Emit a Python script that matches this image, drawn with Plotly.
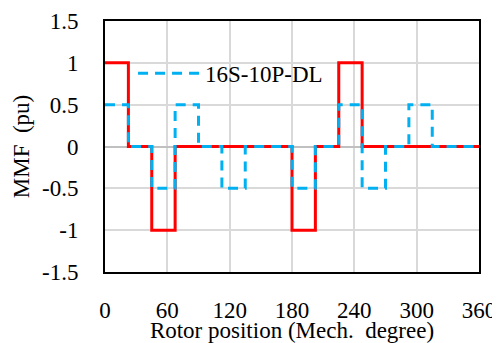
import plotly.graph_objects as go

# Step change positions (mechanical degrees) and MMF values (pu)
sl_x = [0, 22.5, 45, 67.5, 180, 202.5, 225, 247.5, 360]
sl_y = [1, 0, -1, 0, -1, 0, 1, 0, 0]

dl_x = [0, 22.5, 45, 67.5, 90, 112.5, 135, 180, 202.5, 225, 247.5, 270, 292.5, 315, 360]
dl_y = [0.5, 0, -0.5, 0.5, 0, -0.5, 0, -0.5, 0, 0.5, -0.5, 0, 0.5, 0, 0]

x_ticks = [0, 60, 120, 180, 240, 300, 360]
y_ticks = [-1.5, -1, -0.5, 0, 0.5, 1, 1.5]
y_tick_labels = ["-1.5", "-1", "-0.5", "0", "0.5", "1", "1.5"]

FONT = "Liberation Serif"
FS = 23

fig = go.Figure()
fig.add_trace(go.Scatter(x=sl_x, y=sl_y, mode="lines", name="16S-10P-SL", legend="legend",
                         line=dict(color="#FF0000", width=3, shape="hv")))
fig.add_trace(go.Scatter(x=dl_x, y=dl_y, mode="lines", name="16S-10P-DL", legend="legend2",
                         line=dict(color="#00B0F0", width=3, shape="hv", dash="10px,7px")))

axis_common = dict(showline=True, linecolor="#000000", linewidth=2, mirror=True,
                   showgrid=True, gridcolor="#d9d9d9", gridwidth=1.5,
                   automargin=False,
                   ticks="outside", tickcolor="rgba(0,0,0,0)",
                   tickfont=dict(family=FONT, size=FS, color="#000000"))

fig.update_xaxes(range=[0, 360], tickvals=x_ticks, zeroline=False, ticklen=16,
                 title=dict(text="Rotor position (Mech.  degree)", standoff=0,
                            font=dict(family=FONT, size=FS, color="#000000")),
                 **axis_common)
fig.update_yaxes(range=[-1.5, 1.5], tickvals=y_ticks, ticktext=y_tick_labels,
                 zeroline=True, zerolinecolor="#c0c0c0", zerolinewidth=1.5, ticklen=20,
                 title=dict(text="MMF  (pu)", standoff=6,
                            font=dict(family=FONT, size=FS, color="#000000")),
                 **axis_common)

legend_common = dict(xanchor="left", yanchor="middle", bgcolor="rgba(0,0,0,0)",
                     itemwidth=62, font=dict(family=FONT, size=FS, color="#000000"))

fig.update_layout(
    width=492, height=335,
    margin=dict(l=97, r=21, t=13, b=71),
    plot_bgcolor="white", paper_bgcolor="white",
    font=dict(family=FONT, size=FS, color="#000000"),
    legend=dict(x=0.075, y=0.9175, **legend_common),
    legend2=dict(x=0.075, y=0.7916, **legend_common),
)

fig.write_html("out.html")
